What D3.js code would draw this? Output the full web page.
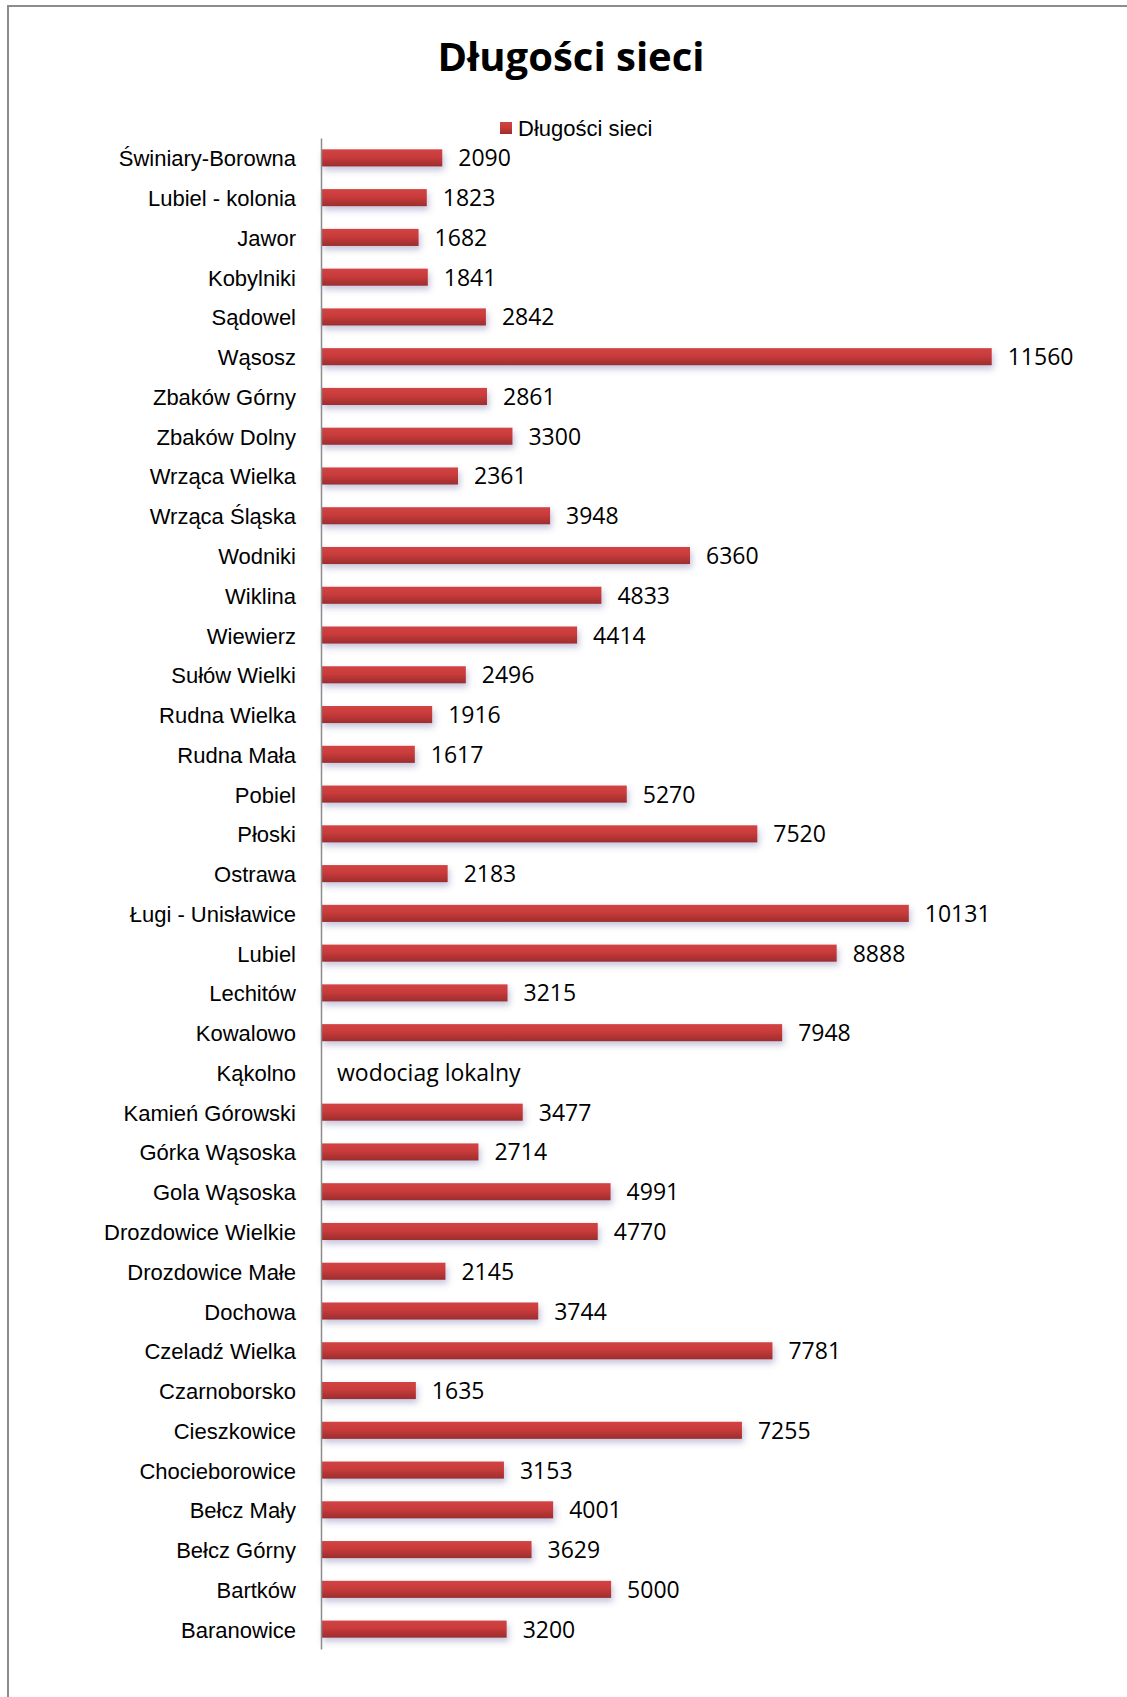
<!DOCTYPE html>
<html>
<head>
<meta charset="utf-8">
<script src="https://cdn.jsdelivr.net/npm/d3@7"></script>
<style>
  body { margin: 0; background: #fff; }
  svg { display: block; }
</style>
</head>
<body>
<div id="chart"></div>
<script>
// data, top to bottom
var categories = [
  "Świniary-Borowna", "Lubiel - kolonia", "Jawor", "Kobylniki", "Sądowel", "Wąsosz",
  "Zbaków Górny", "Zbaków Dolny", "Wrząca Wielka", "Wrząca Śląska", "Wodniki", "Wiklina",
  "Wiewierz", "Sułów Wielki", "Rudna Wielka", "Rudna Mała", "Pobiel", "Płoski", "Ostrawa",
  "Ługi - Unisławice", "Lubiel", "Lechitów", "Kowalowo", "Kąkolno", "Kamień Górowski",
  "Górka Wąsoska", "Gola Wąsoska", "Drozdowice Wielkie", "Drozdowice Małe", "Dochowa",
  "Czeladź Wielka", "Czarnoborsko", "Cieszkowice", "Chocieborowice", "Bełcz Mały",
  "Bełcz Górny", "Bartków", "Baranowice"
];
var values = [
  2090, 1823, 1682, 1841, 2842, 11560,
  2861, 3300, 2361, 3948, 6360, 4833,
  4414, 2496, 1916, 1617, 5270, 7520, 2183,
  10131, 8888, 3215, 7948, null, 3477,
  2714, 4991, 4770, 2145, 3744,
  7781, 1635, 7255, 3153, 4001,
  3629, 5000, 3200
];
var labels = values.map(function (v) { return v == null ? "wodociag lokalny" : String(v); });
var seriesName = "Długości sieci";
var title = "Długości sieci";

var width = 1127, height = 1697;
var axisX = 321, plotTop = 138, plotBottom = 1649;

var svg = d3.select("#chart").append("svg")
  .attr("width", width).attr("height", height);

var defs = svg.append("defs");
var grad = defs.append("linearGradient").attr("id", "barGrad")
  .attr("x1", 0).attr("y1", 0).attr("x2", 0).attr("y2", 1);
grad.append("stop").attr("offset", "0%").attr("stop-color", "#d24444");
grad.append("stop").attr("offset", "45%").attr("stop-color", "#c93b3b");
grad.append("stop").attr("offset", "100%").attr("stop-color", "#9c2d2d");

var shadow = defs.append("filter").attr("id", "shadow")
  .attr("x", "-5%").attr("y", "-50%").attr("width", "115%").attr("height", "250%");
shadow.append("feDropShadow")
  .attr("dx", 2).attr("dy", 4).attr("stdDeviation", 3)
  .attr("flood-color", "#5a5a9a").attr("flood-opacity", 0.35);

// outer frame
svg.append("rect")
  .attr("x", 8).attr("y", 6).attr("width", 1200).attr("height", 1800)
  .attr("fill", "none").attr("stroke", "#8c8c8c").attr("stroke-width", 2);

svg.append("text")
  .attr("x", 571).attr("y", 71)
  .attr("text-anchor", "middle")
  .style("font-family", "'Open Sans', sans-serif")
  .style("font-weight", "bold")
  .style("font-size", "40px")
  .attr("fill", "#000")
  .text(title);

var x = d3.scaleLinear().domain([0, 14000]).range([axisX, axisX + 812.3]);
var y = d3.scaleBand().domain(categories).range([plotTop, plotBottom]).paddingInner(0.57).paddingOuter(0.285);

// legend
var legend = svg.append("g");
legend.append("rect")
  .attr("x", 500).attr("y", 122).attr("width", 12).attr("height", 12)
  .attr("fill", "url(#barGrad)");
legend.append("text")
  .attr("x", 518).attr("y", 136)
  .style("font-family", "'Liberation Sans', Arial, sans-serif")
  .style("font-size", "22px")
  .text(seriesName);

var rows = svg.append("g").selectAll("g").data(categories).enter().append("g");

rows.filter(function (d, i) { return values[i] != null; })
  .append("rect")
  .attr("x", x(0))
  .attr("y", function (d) { return y(d); })
  .attr("height", y.bandwidth())
  .attr("width", function (d) { return x(values[categories.indexOf(d)]) - x(0); })
  .attr("fill", "url(#barGrad)")
  .attr("filter", "url(#shadow)");

rows.append("text")
  .attr("x", function (d, i) { return x(values[i] || 0) + 16; })
  .attr("y", function (d) { return y(d) + y.bandwidth() / 2 + 8.5; })
  .style("font-family", "'Open Sans', sans-serif")
  .style("font-size", "23px")
  .attr("fill", "#000")
  .text(function (d, i) { return labels[i]; });

// category axis
var yAxis = svg.append("g")
  .attr("transform", "translate(" + axisX + ",0)")
  .call(d3.axisLeft(y).tickSize(0).tickPadding(25));
yAxis.select(".domain").attr("stroke", "#8c8c8c").attr("stroke-width", 1.5);
yAxis.selectAll("text")
  .attr("dy", null)
  .attr("y", 8.5)
  .style("font-family", "'Liberation Sans', Arial, sans-serif")
  .style("font-size", "22px")
  .attr("fill", "#000");
</script>
</body>
</html>
